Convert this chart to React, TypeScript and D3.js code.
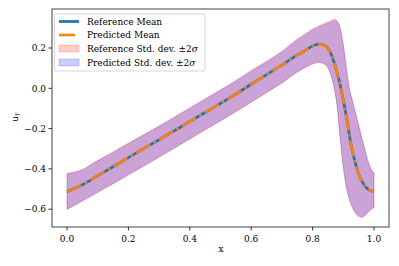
import React from 'react';
import * as d3 from 'd3';

// x positions of the samples
const xs = [0, 0.05, 0.1, 0.15, 0.2, 0.25, 0.3, 0.35, 0.4, 0.45, 0.5, 0.55, 0.6, 0.65, 0.7, 0.75, 0.78, 0.8, 0.82, 0.84, 0.86, 0.87, 0.88, 0.89, 0.9, 0.91, 0.92, 0.93, 0.94, 0.95, 0.96, 0.97, 0.98, 0.99, 1.0];

const refMean = [-0.513, -0.479, -0.434, -0.389, -0.344, -0.299, -0.255, -0.21, -0.165, -0.12, -0.075, -0.028, 0.02, 0.068, 0.115, 0.165, 0.192, 0.21, 0.219, 0.212, 0.17, 0.128, 0.075, 0.015, -0.06, -0.14, -0.235, -0.315, -0.375, -0.425, -0.46, -0.485, -0.5, -0.508, -0.513];
const predMean = [-0.513, -0.478, -0.434, -0.389, -0.344, -0.299, -0.255, -0.21, -0.165, -0.12, -0.075, -0.028, 0.02, 0.068, 0.115, 0.165, 0.192, 0.21, 0.218, 0.211, 0.169, 0.127, 0.074, 0.014, -0.061, -0.141, -0.236, -0.316, -0.376, -0.426, -0.461, -0.486, -0.5, -0.508, -0.513];

const refUpper = [-0.422, -0.402, -0.357, -0.315, -0.272, -0.228, -0.186, -0.141, -0.096, -0.051, -0.006, 0.04, 0.09, 0.135, 0.186, 0.246, 0.276, 0.296, 0.311, 0.324, 0.336, 0.343, 0.336, 0.3, 0.22, 0.105, 0.0, -0.06, -0.12, -0.18, -0.241, -0.301, -0.357, -0.397, -0.418];
const refLower = [-0.602, -0.56, -0.518, -0.475, -0.431, -0.387, -0.343, -0.298, -0.253, -0.208, -0.163, -0.118, -0.071, -0.023, 0.025, 0.079, 0.105, 0.119, 0.127, 0.117, 0.062, 0.002, -0.094, -0.255, -0.395, -0.495, -0.555, -0.595, -0.622, -0.637, -0.641, -0.634, -0.618, -0.603, -0.593];
const predUpper = [-0.425, -0.405, -0.36, -0.318, -0.275, -0.232, -0.19, -0.145, -0.1, -0.055, -0.01, 0.035, 0.085, 0.13, 0.18, 0.24, 0.27, 0.29, 0.305, 0.318, 0.33, 0.338, 0.33, 0.295, 0.215, 0.1, -0.005, -0.065, -0.125, -0.185, -0.245, -0.305, -0.36, -0.4, -0.42];
const predLower = [-0.6, -0.558, -0.515, -0.472, -0.428, -0.384, -0.34, -0.295, -0.25, -0.205, -0.16, -0.115, -0.068, -0.02, 0.028, 0.082, 0.108, 0.122, 0.13, 0.12, 0.065, 0.005, -0.09, -0.25, -0.39, -0.49, -0.55, -0.59, -0.618, -0.633, -0.637, -0.63, -0.615, -0.6, -0.59];

const xTicks = [0, 0.2, 0.4, 0.6, 0.8, 1.0];
const yTicks = [-0.6, -0.4, -0.2, 0.0, 0.2];
const legendLabels = ['Reference Mean', 'Predicted Mean', 'Reference Std. dev. ±2', 'Predicted Std. dev. ±2'];

const W = 399;
const H = 266;
const box = { left: 52, right: 389, top: 9, bottom: 227 };
const FONT = 'DejaVu Serif';

const fmt = (v: number) => d3.format('.1f')(v).replace('-', '\u2212');

export default function App() {
  const x = d3.scaleLinear().domain([0, 1]).range([67, 374]);
  const y = d3.scaleLinear().domain([0, 0.2]).range([88.3, 48]);

  const band = (up: number[], lo: number[]) =>
    d3.area<number>()
      .x((_, i) => x(xs[i]))
      .y0((_, i) => y(lo[i]))
      .y1((_, i) => y(up[i]))
      .curve(d3.curveMonotoneX)(xs) as string;

  const line = (vals: number[]) =>
    d3.line<number>()
      .x((_, i) => x(xs[i]))
      .y((_, i) => y(vals[i]))
      .curve(d3.curveMonotoneX)(xs) as string;

  const rowY = [21.5, 35, 48.5, 62.5];

  return (
    <svg width={W} height={H} style={{ position: 'absolute', left: 0, top: 0, background: '#fff' }}>
      <defs>
        <clipPath id="plot">
          <rect x={box.left} y={box.top} width={box.right - box.left} height={box.bottom - box.top} />
        </clipPath>
      </defs>
      <g clipPath="url(#plot)">
        <path d={band(refUpper, refLower)} fill="red" fillOpacity={0.2} stroke="red" strokeOpacity={0.2} strokeWidth={0.8} />
        <path d={band(predUpper, predLower)} fill="blue" fillOpacity={0.2} stroke="blue" strokeOpacity={0.2} strokeWidth={0.8} />
        <path d={line(refMean)} fill="none" stroke="#1f77b4" strokeWidth={2.8} />
        <path d={line(predMean)} fill="none" stroke="#ff7f0e" strokeWidth={2.6} strokeDasharray="16,4,2.5,4" />
      </g>

      {/* spines */}
      <rect x={box.left} y={box.top} width={box.right - box.left} height={box.bottom - box.top} fill="none" stroke="#555" strokeWidth={1.1} />

      {/* x axis */}
      {xTicks.map((t) => (
        <g key={'x' + t}>
          <line x1={x(t)} x2={x(t)} y1={box.bottom} y2={box.bottom + 3.5} stroke="#000" strokeWidth={0.8} />
          <text x={x(t)} y={box.bottom + 15} textAnchor="middle" fontFamily={FONT} fontSize={9} fill="#000">{fmt(t)}</text>
        </g>
      ))}
      {/* y axis */}
      {yTicks.map((t) => (
        <g key={'y' + t}>
          <line x1={box.left - 3.5} x2={box.left} y1={y(t)} y2={y(t)} stroke="#000" strokeWidth={0.8} />
          <text x={box.left - 6} y={y(t) + 3.2} textAnchor="end" fontFamily={FONT} fontSize={9} fill="#000">{fmt(t)}</text>
        </g>
      ))}

      <text x={221} y={252} textAnchor="middle" fontFamily={FONT} fontSize={9} fill="#000">x</text>
      <text transform="translate(18,117) rotate(-90)" textAnchor="middle" fontFamily="DejaVu Sans" fontSize={8.5} fill="#000">
        u<tspan fontSize={6} dy={2}>T</tspan>
      </text>

      {/* legend */}
      <rect x={54.5} y={14} width={150.5} height={57} rx={2} fill="#fff" fillOpacity={0.8} stroke="#ccc" strokeWidth={0.8} />
      <line x1={59} x2={79} y1={rowY[0]} y2={rowY[0]} stroke="#1f77b4" strokeWidth={2.8} />
      <line x1={59} x2={79} y1={rowY[1]} y2={rowY[1]} stroke="#ff7f0e" strokeWidth={2.6} strokeDasharray="16,4,2.5,4" />
      <rect x={59} y={rowY[2] - 3.5} width={20} height={7} fill="red" fillOpacity={0.2} stroke="red" strokeOpacity={0.2} strokeWidth={0.8} />
      <rect x={59} y={rowY[3] - 3.5} width={20} height={7} fill="blue" fillOpacity={0.2} stroke="blue" strokeOpacity={0.2} strokeWidth={0.8} />
      {legendLabels.map((l, i) => (
        <text key={l} x={87} y={rowY[i] + 3.2} fontFamily={FONT} fontSize={9} fill="#000">
          {l}
          {i >= 2 ? <tspan fontStyle="italic">σ</tspan> : null}
        </text>
      ))}
    </svg>
  );
}
